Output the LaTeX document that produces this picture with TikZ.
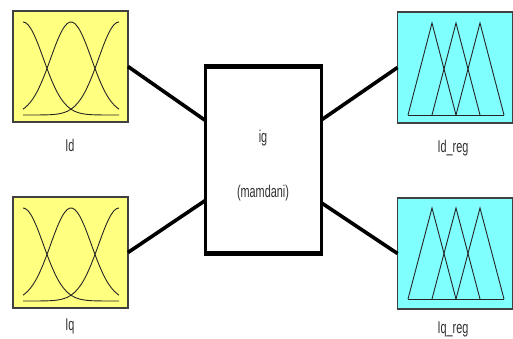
\documentclass[tikz,border=0pt]{standalone}
\usepackage{fontspec}
\newfontfamily\labfont{Liberation Sans}
\usetikzlibrary{calc}
\definecolor{inyel}{HTML}{FFFF80}
\definecolor{outcy}{HTML}{80FFFF}
\definecolor{edge}{HTML}{404040}
\definecolor{txt}{HTML}{303030}
\begin{document}
\begin{tikzpicture}[x=1pt,y=-1pt,
  mfbox/.style={draw=edge,line width=1.8pt,minimum width=115pt,minimum height=111pt,inner sep=0pt,outer sep=0pt},
  inbox/.style={mfbox,fill=inyel},
  outbox/.style={mfbox,fill=outcy},
  fisbox/.style={draw=black,line width=3pt,fill=white,minimum width=116pt,minimum height=187pt,inner sep=0pt,outer sep=0pt},
  lab/.style={text=txt,font=\labfont\fontsize{17}{17}\selectfont,inner sep=0pt},
  link/.style={line width=3.6pt,black},
  mf/.style={line width=0.9pt,black!85},
  thickedge/.style={black,line width=5pt,shorten <=-1.5pt,shorten >=-1.5pt}
]
\useasboundingbox (0,0) rectangle (513,338);
% boxes
\node[inbox] (id) at (70.5,66.5) {};
\node[inbox] (iq) at (70.5,252.5) {};
\node[outbox] (idr) at (455,67.5) {};
\node[outbox] (iqr) at (455,253.5) {};
\node[fisbox] (fis) at (263,159.5) {};
\draw[thickedge] (fis.north west) -- (fis.north east);
\draw[thickedge] (fis.south west) -- (fis.south east);
% connection points
\coordinate (fl1) at ($(fis.north west)!0.29!(fis.south west)$);
\coordinate (fl2) at ($(fis.north west)!0.72!(fis.south west)$);
\coordinate (fr1) at ($(fis.north east)!0.29!(fis.south east)$);
\coordinate (fr2) at ($(fis.north east)!0.73!(fis.south east)$);
\draw[link] (id.east) -- (fl1);
\draw[link] (iq.east) -- (fl2);
\draw[link] (fr1) -- (idr.west);
\draw[link] (fr2) -- (iqr.west);
% gaussian MFs
\foreach \oy in {0,186}{
  \begin{scope}[yshift=-\oy pt]
    \draw[mf] plot[smooth,samples=40,domain=23:119] (\x,{115-93*exp(-((\x-23)^2)/832)});
    \draw[mf] plot[smooth,samples=40,domain=23:119] (\x,{115-93*exp(-((\x-71)^2)/832)});
    \draw[mf] plot[smooth,samples=40,domain=23:119] (\x,{115-93*exp(-((\x-119)^2)/832)});
  \end{scope}
}
% triangular MFs
\foreach \oy/\ap/\bs in {0/23/115,186/22/113}{
  \begin{scope}[yshift=-\oy pt]
    \draw[mf] (408,\bs) -- (432,\ap) -- (456,\bs);
    \draw[mf] (432,\bs) -- (456,\ap) -- (480,\bs);
    \draw[mf] (456,\bs) -- (480,\ap) -- (504,\bs);
    \draw[mf] (408,\bs) -- (504,\bs);
  \end{scope}
}
% labels
\node[lab] (idl) at (70,145) {\scalebox{0.64}[1]{Id}};
\node[lab] (iql) at (70,326) {\scalebox{0.64}[1]{Iq}};
\node[lab] (idrl) at (453,148) {\scalebox{0.64}[1]{Id\_reg}};
\node[lab] (iqrl) at (453,329) {\scalebox{0.64}[1]{Iq\_reg}};
\node[lab] (fisn) at (263,138) {\scalebox{0.64}[1]{ig}};
\node[lab] (fist) at (263,193) {\scalebox{0.64}[1]{(mamdani)}};
\end{tikzpicture}
\end{document}
